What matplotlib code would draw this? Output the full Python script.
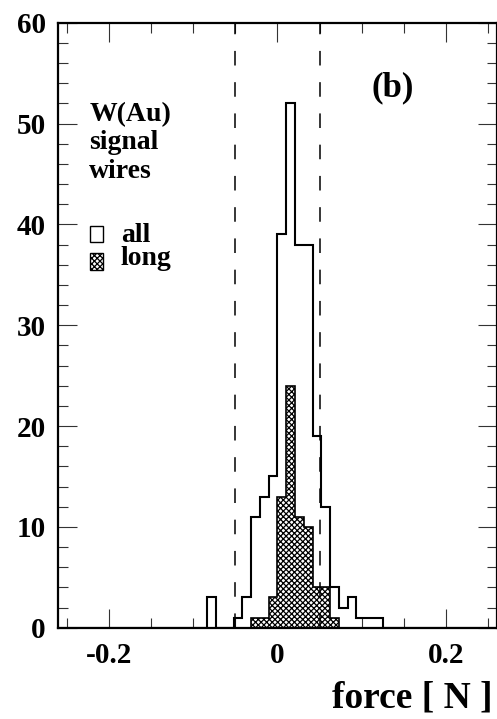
import numpy as np
import matplotlib
matplotlib.use("Agg")
import matplotlib.pyplot as plt
from matplotlib.patches import Rectangle
from matplotlib.ticker import MultipleLocator

plt.rcParams["font.family"] = ["Liberation Serif", "DejaVu Serif"]
plt.rcParams["font.weight"] = "bold"
plt.rcParams["axes.unicode_minus"] = False
plt.rcParams["hatch.linewidth"] = 0.9
plt.rcParams["lines.scale_dashes"] = False

# histogram binning: 50 bins over [-0.26, 0.26] N
x_min, x_max, n_bins = -0.26, 0.26, 50
edges = np.linspace(x_min, x_max, n_bins + 1)

# counts per bin, listed from the first non-empty bin
all_first_bin = 17
all_counts = [3, 0, 0, 1, 3, 11, 13, 15, 39, 52, 38, 38, 19, 12, 4, 2, 3, 1, 1, 1]
long_first_bin = 22
long_counts = [1, 1, 3, 13, 24, 11, 10, 4, 4, 1]

# tolerance limits
limits = [-0.05, 0.05]

title_lines = ["W(Au)", "signal", "wires"]
legend_labels = ["all", "long"]
panel_tag = "(b)"
x_title = "force [ N ]"


def full_hist(first, counts):
    h = np.zeros(n_bins)
    h[first:first + len(counts)] = counts
    return h


h_all = full_hist(all_first_bin, all_counts)
h_long = full_hist(long_first_bin, long_counts)

fig = plt.figure(figsize=(4.97, 7.19), dpi=100)
ax = fig.add_axes([0.1173, 0.127, 0.8820, 0.8414])

hatch = "xxxxxx"
ax.stairs(h_long, edges, baseline=0, fill=True, facecolor="white",
          edgecolor="black", hatch=hatch, linewidth=0, zorder=2)
ax.stairs(h_long, edges, baseline=0, color="black", linewidth=1.2, zorder=3)
ax.stairs(h_all, edges, baseline=0, color="black", linewidth=1.5, zorder=4)

for xv in limits:
    ax.axvline(xv, color="black", linewidth=1.1, dashes=(10.5, 12),
               zorder=5)

ax.set_xlim(x_min, x_max)
ax.set_ylim(0, 60)
ax.xaxis.set_major_locator(MultipleLocator(0.2))
ax.xaxis.set_minor_locator(MultipleLocator(0.05))
ax.yaxis.set_major_locator(MultipleLocator(10))
ax.yaxis.set_minor_locator(MultipleLocator(2))
ax.xaxis.set_major_formatter(plt.FuncFormatter(lambda v, p: f"{v:g}"))

ax.tick_params(which="both", direction="in", top=True, right=True,
               width=0.8, color="#333333", labelsize=21)
ax.tick_params(which="major", length=13.5)
ax.tick_params(which="minor", length=7)
ax.tick_params(axis="x", pad=10)
ax.tick_params(axis="y", pad=9)
for lab in ax.get_xticklabels() + ax.get_yticklabels():
    lab.set_fontweight("bold")
for sp in ax.spines.values():
    sp.set_linewidth(1.6)
    sp.set_zorder(6)

# legend block
text_kw = dict(transform=ax.transAxes, fontsize=20, fontweight="bold",
               ha="left", va="baseline")
for i, line in enumerate(title_lines):
    ax.text(0.0707, 0.838 - i * 0.0475, line, **text_kw)

box_x, box_w, box_h = 0.073, 0.030, 0.027
rows_y = [0.637, 0.5995]
ax.add_patch(Rectangle((box_x, rows_y[0]), box_w, box_h,
                       transform=ax.transAxes, facecolor="white",
                       edgecolor="black", linewidth=1.0, zorder=7))
ax.add_patch(Rectangle((box_x, rows_y[1] - 0.008), box_w, box_h + 0.001,
                       transform=ax.transAxes, facecolor="white",
                       edgecolor="black", hatch=hatch, linewidth=1.0,
                       zorder=7))
for lab, yb in zip(legend_labels, rows_y):
    ax.text(0.143, yb, lab, **text_kw)

ax.text(0.7635, 0.8777, panel_tag, transform=ax.transAxes, fontsize=25,
        fontweight="bold", ha="center", va="baseline")

fig.text(0.99, 0.0153, x_title, fontsize=27, fontweight="bold",
         ha="right", va="baseline")

fig.savefig("out.png", dpi=100)
